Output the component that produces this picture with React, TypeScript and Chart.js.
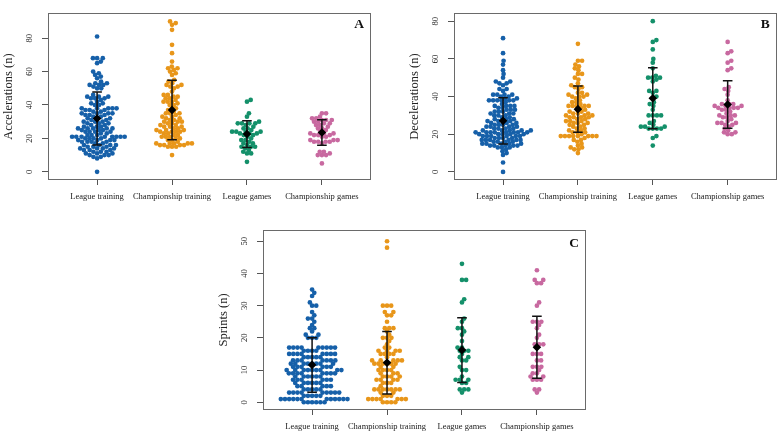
import React, { useEffect, useRef } from "react";
import { Chart, registerables } from "chart.js";

Chart.register(...registerables);

// ---------- data ----------
const categories = ["League training", "Championship training", "League games", "Championship games"];

// Panel A: accelerations
const accLeagueTraining = [81,68,68,68,66,65,60,59,58,57,56,54,53,53,52,52,52,51,50,50,46,45,45,45,44,44,44,43,42,41,41,40,40,38,38,38,38,38,37,37,37,36,36,35,35,35,35,34,34,34,33,33,32,32,32,31,31,30,30,30,29,29,29,28,28,27,27,27,26,26,26,26,26,25,25,25,24,24,24,24,23,23,22,22,22,21,21,21,21,21,21,21,21,20,20,20,20,19,19,19,19,18,18,18,18,17,17,16,16,16,16,15,15,15,14,14,14,14,13,13,13,12,12,12,11,11,11,10,10,10,9,9,8,0];
const accChampTraining = [90,89,88,85,76,71,66,63,62,62,61,60,59,58,55,54,53,52,52,51,51,50,48,46,46,45,45,44,44,43,42,42,42,41,40,40,38,38,37,36,35,35,35,34,33,33,32,32,31,31,30,30,30,29,29,28,28,27,27,27,26,26,25,25,25,24,24,24,24,23,23,22,22,21,21,21,20,20,19,19,18,17,17,17,17,17,16,16,16,16,15,15,15,10];
const accLeagueGames = [43,42,35,33,30,29,29,29,29,28,27,26,26,25,24,24,24,24,23,23,23,22,22,21,20,19,19,18,17,17,16,15,15,15,14,13,12,11,11,6];
const accChampGames = [35,35,33,32,32,31,31,31,30,30,29,29,28,28,27,26,26,25,24,23,23,23,22,22,22,21,21,19,19,19,18,18,18,18,17,12,12,11,10,10,10,5];
const accMeans = [31.9, 37.0, 22.6, 23.5];
const accSDs = [15.8, 17.75, 8.0, 7.65];
const accTicks = [0, 20, 40, 60, 80];

// Panel B: decelerations
const decLeagueTraining = [71,63,59,57,54,52,50,48,48,47,47,46,44,44,43,41,41,41,41,40,40,39,39,38,38,38,38,38,38,37,36,35,35,35,35,34,34,33,33,33,32,32,32,31,31,31,30,30,30,29,29,28,28,28,27,27,27,27,26,26,26,25,25,25,25,24,24,24,24,23,23,23,23,22,22,22,22,22,21,21,21,21,21,21,21,21,20,20,20,20,20,19,19,19,19,19,19,18,18,18,18,17,17,17,17,17,17,16,16,16,16,15,15,15,15,15,14,14,14,14,14,13,13,13,12,11,10,9,5,0];
const decChampTraining = [68,59,59,57,56,55,54,52,52,50,49,47,46,45,45,44,42,42,41,41,40,40,40,39,38,37,37,36,35,35,35,35,35,34,33,33,32,32,31,31,31,30,30,30,29,29,29,29,28,28,27,27,27,26,26,26,25,25,24,24,23,23,22,22,21,21,21,20,19,19,19,19,19,19,19,19,18,17,17,16,15,14,13,13,12,12,10];
const decLeagueGames = [80,70,69,65,60,58,55,51,50,50,50,49,48,43,43,42,40,39,37,36,35,33,30,30,30,30,27,26,25,24,24,24,23,23,23,23,19,18,14];
const decChampGames = [69,64,63,59,58,55,54,45,44,43,41,38,36,36,36,35,35,35,34,34,34,34,33,33,32,31,30,30,30,29,29,28,27,26,26,26,25,25,24,23,22,21,21,20,20];
const decMeans = [27.1, 33.3, 39.1, 35.8];
const decSDs = [12.3, 12.25, 16.25, 12.6];
const decTicks = [0, 20, 40, 60, 80];

// Panel C: sprints
const sprLeagueTraining = [35,34,33,31,30,30,28,27,26,26,25,24,23,23,22,21,21,20,20,20,
  17,17,17,17,17,17,17,17,17,16,16,16,16,15,15,15,15,15,15,15,15,14,14,14,14,14,
  13,13,13,13,13,13,13,12,12,12,12,12,12,12,12,11,11,11,11,11,11,
  10,10,10,10,10,10,10,10,10,9,9,9,9,9,9,9,9,8,8,8,8,8,8,7,7,7,7,7,7,
  6,6,6,6,6,6,5,5,5,5,5,4,4,4,4,4,3,3,3,3,3,3,3,3,3,2,2,2,2,2,
  1,1,1,1,1,1,1,1,1,1,1,1,0,0,0,0,0,0];
const sprChampTraining = [50,48,30,30,30,28,28,27,27,25,23,23,23,22,21,20,20,20,19,18,17,17,16,16,16,16,15,15,15,15,14,13,13,13,13,13,12,12,12,12,12,12,11,11,10,10,10,10,9,9,9,8,8,8,8,7,7,7,7,6,6,6,5,4,4,4,4,4,4,4,3,3,2,2,2,1,1,1,1,1,1,1,0,0,0,0];
const sprLeagueGames = [43,38,38,32,31,26,25,23,23,22,21,19,17,17,16,16,16,15,14,14,13,13,11,10,10,8,7,7,7,6,6,4,4,4,3];
const sprChampGames = [41,38,38,37,37,31,30,25,25,25,24,23,21,20,18,18,18,17,15,15,15,13,13,11,11,11,10,9,9,8,8,7,7,7,4,4,3];
const sprMeans = [11.6, 12.3, 16.2, 17.1];
const sprSDs = [8.45, 9.7, 10.05, 9.65];
const sprTicks = [0, 10, 20, 30, 40, 50];

// ---------- styles / layout ----------
const colors = ["#1660A9", "#E8961A", "#14906A", "#C869A0"];
const SERIF = '"Liberation Serif", "Times New Roman", Times, serif';
const SPACING_X = 4.15; // swarm spacing across the category axis, px
const SPACING_Y = 3.8; // swarm spacing along the value axis, px
const DOT_R = 2.35;
const CAP = 4.8;
const Y_AXIS_W = 48;

const panels = [
  { letter: "A", title: "Accelerations (n)", groups: [accLeagueTraining, accChampTraining, accLeagueGames, accChampGames], means: accMeans, sds: accSDs, ticks: accTicks, yMin: -4.9, yMax: 95,
    box: { left: 0, top: 0, w: 390, h: 210, padTop: 2, padRight: 19, xAxisH: 30, letterDy: 14.5 } },
  { letter: "B", title: "Decelerations (n)", groups: [decLeagueTraining, decChampTraining, decLeagueGames, decChampGames], means: decMeans, sds: decSDs, ticks: decTicks, yMin: -4.3, yMax: 84.3,
    box: { left: 406, top: 0, w: 375, h: 210, padTop: 2, padRight: 4, xAxisH: 30, letterDy: 15 } },
  { letter: "C", title: "Sprints (n)", groups: [sprLeagueTraining, sprChampTraining, sprLeagueGames, sprChampGames], means: sprMeans, sds: sprSDs, ticks: sprTicks, yMin: -2.4, yMax: 53.5,
    box: { left: 215, top: 215, w: 380, h: 220, padTop: 15, padRight: 9, xAxisH: 25, letterDy: 16.5 } },
];

// swarm layout (R beeswarm "swarm" style, ascending priority)
function swarm(ysPx: number[], gx: number, gy: number): number[] {
  const ys = ysPx.map((y) => y / gy); // normalised units
  const order = ys.map((_, i) => i).sort((a, b) => ys[b] - ys[a]);
  const px: number[] = [];
  const py: number[] = [];
  const out = new Array(ys.length).fill(0);
  for (const i of order) {
    const yi = ys[i];
    const pos: number[] = [];
    const neg: number[] = [];
    for (let j = 0; j < py.length; j++) {
      const dy = Math.abs(yi - py[j]);
      if (dy < 1) {
        const off = Math.sqrt(1 - dy * dy);
        pos.push(px[j] + off);
        neg.push(px[j] - off);
      }
    }
    const cands = [0, ...pos, ...neg];
    let best = Infinity;
    for (const c of cands) {
      if (Math.abs(c) >= Math.abs(best)) continue;
      let ok = true;
      for (let j = 0; j < py.length; j++) {
        const dx = c - px[j];
        const dy = yi - py[j];
        if (dx * dx + dy * dy < 0.999) { ok = false; break; }
      }
      if (ok) best = c;
    }
    out[i] = best * gx;
    px.push(best);
    py.push(yi);
  }
  return out;
}

const boxPlugin = {
  id: "frameBox",
  beforeDatasetsDraw(chart: any) {
    const { ctx, chartArea: a } = chart;
    ctx.save();
    ctx.strokeStyle = "#6a6a6a";
    ctx.lineWidth = 1;
    ctx.strokeRect(Math.round(a.left) + 0.5, Math.round(a.top) + 0.5, Math.round(a.right - a.left) - 1, Math.round(a.bottom - a.top) - 1);
    ctx.restore();
  },
};

const letterPlugin = {
  id: "panelLetter",
  afterDraw(chart: any, _args: any, opts: any) {
    const { ctx, chartArea: a } = chart;
    ctx.save();
    ctx.fillStyle = "#111";
    ctx.font = `bold 13.5px ${SERIF}`;
    ctx.textAlign = "right";
    ctx.textBaseline = "alphabetic";
    ctx.fillText(opts.text, a.right - 7, a.top + opts.dy);
    ctx.restore();
  },
};

function buildChart(canvas: HTMLCanvasElement, p: any) {
  const datasets: any[] = [];
  datasets.push({
    label: "mean",
    data: p.means.map((m: number, i: number) => ({ x: i + 1, y: m })),
    pointStyle: "rectRot",
    pointRadius: 4.3,
    backgroundColor: "#000",
    borderColor: "#000",
    borderWidth: 0,
  });
  datasets.push({
    label: "sd",
    data: [],
    showLine: true,
    spanGaps: false,
    borderColor: "#111",
    borderWidth: 1.5,
    pointRadius: 0,
  });
  p.groups.forEach((g: number[], gi: number) => {
    datasets.push({
      label: categories[gi],
      data: g.map((v) => ({ x: gi + 1, y: v })),
      pointRadius: DOT_R,
      backgroundColor: colors[gi],
      borderWidth: 0,
    });
  });

  const font = { family: SERIF, size: 8.5 };
  const chart = new Chart(canvas, {
    type: "scatter",
    data: { datasets },
    plugins: [boxPlugin, letterPlugin],
    options: {
      animation: false,
      responsive: false,
      maintainAspectRatio: false,
      devicePixelRatio: 1,
      events: [],
      layout: { padding: { left: 0, top: p.box.padTop, right: p.box.padRight, bottom: 0 } },
      plugins: {
        legend: { display: false },
        tooltip: { enabled: false },
        panelLetter: { text: p.letter, dy: p.box.letterDy },
      } as any,
      scales: {
        x: {
          type: "linear",
          min: 0.345,
          max: 4.655,
          afterBuildTicks: (s: any) => { s.ticks = categories.map((_, i) => ({ value: i + 1 })); },
          afterFit: (s: any) => { s.height = p.box.xAxisH; },
          grid: { drawOnChartArea: false, drawTicks: true, tickLength: 5, color: "#555", lineWidth: 1 },
          border: { display: false },
          ticks: {
            autoSkip: false, maxRotation: 0, minRotation: 0, padding: 7, color: "#222", font,
            callback: (v: any) => categories[Math.round(v) - 1] ?? "",
          },
        },
        y: {
          type: "linear",
          min: p.yMin,
          max: p.yMax,
          afterBuildTicks: (s: any) => { s.ticks = p.ticks.map((v: number) => ({ value: v })); },
          afterFit: (s: any) => { s.width = Y_AXIS_W; },
          grid: { drawOnChartArea: false, drawTicks: true, tickLength: 6, color: "#555", lineWidth: 1 },
          border: { display: false },
          title: { display: true, text: p.title, color: "#222", font: { family: SERIF, size: 12.5 }, padding: { top: 1, bottom: 0 } },
          ticks: { minRotation: 90, maxRotation: 90, crossAlign: "center", padding: 8, color: "#222", font },
        },
      },
    } as any,
  });

  // second pass: swarm offsets and error bars, computed through the chart's scales
  const xs: any = chart.scales.x;
  const ys: any = chart.scales.y;
  p.groups.forEach((g: number[], gi: number) => {
    const cx = xs.getPixelForValue(gi + 1);
    const offs = swarm(g.map((v) => ys.getPixelForValue(v)), SPACING_X, SPACING_Y);
    (chart.data.datasets[2 + gi] as any).data = g.map((v, k) => ({ x: xs.getValueForPixel(cx + offs[k]), y: v }));
  });
  const sdData: any[] = [];
  p.means.forEach((m: number, i: number) => {
    const lo = m - p.sds[i];
    const hi = m + p.sds[i];
    const cx = xs.getPixelForValue(i + 1);
    const xl = xs.getValueForPixel(cx - CAP);
    const xr = xs.getValueForPixel(cx + CAP);
    sdData.push(
      { x: i + 1, y: lo }, { x: i + 1, y: hi }, { x: i + 1, y: null },
      { x: xl, y: hi }, { x: xr, y: hi }, { x: xr, y: null },
      { x: xl, y: lo }, { x: xr, y: lo }, { x: xr, y: null },
    );
  });
  (chart.data.datasets[1] as any).data = sdData;
  chart.update("none");
  return chart;
}

export default function App() {
  const refs = [useRef<HTMLCanvasElement>(null), useRef<HTMLCanvasElement>(null), useRef<HTMLCanvasElement>(null)];

  useEffect(() => {
    const charts = panels.map((p, i) => buildChart(refs[i].current as HTMLCanvasElement, p));
    return () => charts.forEach((c) => c.destroy());
  }, []);

  return (
    <div style={{ position: "fixed", left: 0, top: 0, width: 781, height: 435, background: "#fff", overflow: "hidden" }}>
      {panels.map((p, i) => (
        <canvas
          key={p.letter}
          ref={refs[i]}
          width={p.box.w}
          height={p.box.h}
          style={{ position: "absolute", left: p.box.left, top: p.box.top, width: p.box.w, height: p.box.h }}
        />
      ))}
    </div>
  );
}
